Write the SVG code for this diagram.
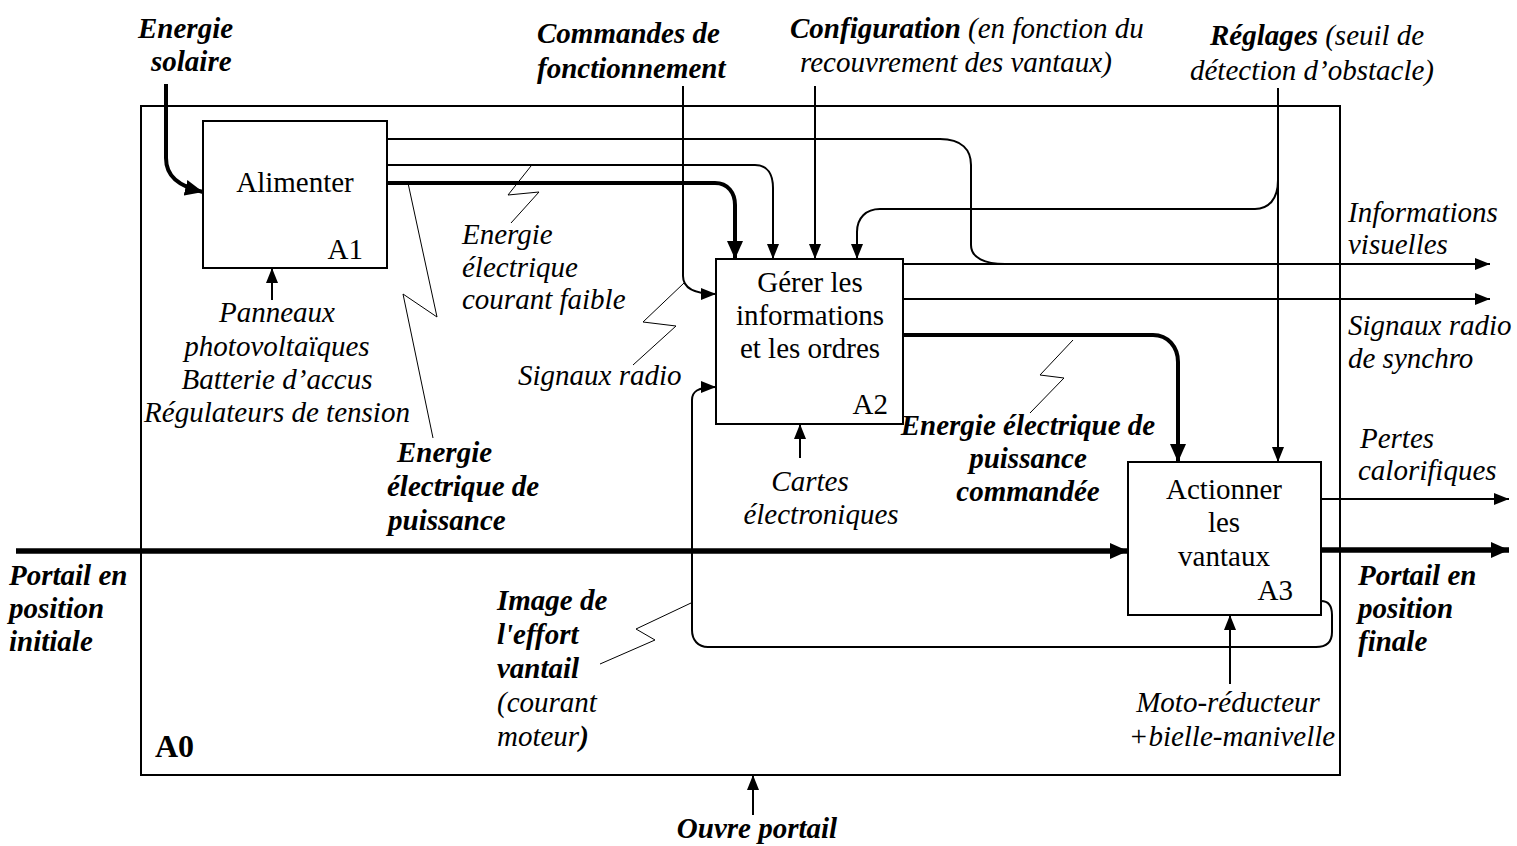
<svg xmlns="http://www.w3.org/2000/svg" width="1517" height="846" viewBox="0 0 1517 846" font-family="'Liberation Serif', Tinos, 'Times New Roman', Times, 'DejaVu Serif', serif">
<style>
text{font-family:"Liberation Serif",Tinos,"Times New Roman",Times,"DejaVu Serif",serif;font-size:29px;fill:#000}
.i{font-style:italic}
.bi{font-style:italic;font-weight:bold}
.b{font-weight:bold}
.box{fill:#fff;stroke:#000;stroke-width:2}
.ln{fill:none;stroke:#000;stroke-width:2}
.tk{fill:none;stroke:#000;stroke-width:4}
.xt{fill:none;stroke:#000;stroke-width:5.5}
.ld{fill:none;stroke:#000;stroke-width:1}
</style>
<defs>
<marker id="a" markerUnits="userSpaceOnUse" markerWidth="15" markerHeight="12" refX="15" refY="6" orient="auto"><path d="M0,0 L15,6 L0,12 z" fill="#000"/></marker>
<marker id="A" markerUnits="userSpaceOnUse" markerWidth="18" markerHeight="16" refX="18" refY="8" orient="auto"><path d="M0,0 L18,8 L0,16 z" fill="#000"/></marker>
</defs>
<rect width="1517" height="846" fill="#fff"/>
<g id="frame-A0">
<rect x="141" y="106" width="1199" height="669" fill="none" stroke="#000" stroke-width="2"/>
<text x="155" y="757" class="b" style="font-size:32px">A0</text>
</g>
<g id="connectors">
<path class="tk" d="M166,84 V158 C166,176 178,186 203,192" marker-end="url(#A)"/>
<path class="ln" d="M387,139 H940 C962,139 971,150 971,165 V245 C971,258 985,264 1005,264"/>
<path class="ln" d="M387,165 H755 C768,165 773,175 773,188 V259" marker-end="url(#a)"/>
<path class="tk" d="M387,183 H715 C728,183 735,193 735,205 V259" marker-end="url(#A)"/>
<path class="ln" d="M683,86 V276 C683,288 695,294 716,294" marker-end="url(#a)"/>
<path class="ln" d="M815,86 V259" marker-end="url(#a)"/>
<path class="ln" d="M1278,88 V462" marker-end="url(#a)"/>
<path class="ln" d="M1278,180 C1278,200 1268,209 1255,209 H880 C866,209 857,218 857,232 V259" marker-end="url(#a)"/>
<path class="ln" d="M903,264 H1490" marker-end="url(#a)"/>
<path class="ln" d="M903,299 H1490" marker-end="url(#a)"/>
<path class="tk" d="M903,335 H1153 C1168,335 1178,347 1178,362 V462" marker-end="url(#A)"/>
<path class="xt" d="M16,551 H1128" marker-end="url(#A)"/>
<path class="xt" d="M1321,550 H1509" marker-end="url(#A)"/>
<path class="ln" d="M1321,499 H1509" marker-end="url(#a)"/>
<path class="ln" d="M1321,601 C1328,601 1332,606 1332,615 V632 C1332,642 1326,647 1316,647 H708 C698,647 692,640 692,630 V400 C692,392 697,387 716,387" marker-end="url(#a)"/>
<path class="ln" d="M272,300 V268" marker-end="url(#a)"/>
<path class="ln" d="M800,458 V424" marker-end="url(#a)"/>
<path class="ln" d="M1230,684 V615" marker-end="url(#a)"/>
<path class="ln" d="M753,815 V775" marker-end="url(#a)"/>
<polyline class="ld" points="408,183 437,317 403,294 433,438"/>
<polyline class="ld" points="531,166 508,195 539,192 511,223"/>
<polyline class="ld" points="684,283 643,322 676,326 633,365"/>
<polyline class="ld" points="1073,340 1040,375 1064,378 1030,413"/>
<polyline class="ld" points="691,603 636,629 655,640 600,664"/>
</g>
<g id="A1">
<rect class="box" x="203" y="121" width="184" height="147"/>
<text x="295" y="192" text-anchor="middle">Alimenter</text>
<text x="363" y="259" text-anchor="end">A1</text>
</g>
<g id="A2">
<rect class="box" x="716" y="259" width="187" height="165"/>
<text x="810" y="292" text-anchor="middle">Gérer les</text>
<text x="810" y="325" text-anchor="middle">informations</text>
<text x="810" y="358" text-anchor="middle">et les ordres</text>
<text x="888" y="414" text-anchor="end">A2</text>
</g>
<g id="A3">
<rect class="box" x="1128" y="462" width="193" height="153"/>
<text x="1224" y="499" text-anchor="middle">Actionner</text>
<text x="1224" y="532" text-anchor="middle">les</text>
<text x="1224" y="566" text-anchor="middle">vantaux</text>
<text x="1293" y="600" text-anchor="end">A3</text>
</g>
<g id="labels">
<text x="138" y="38" class="bi">Energie</text>
<text x="151" y="71" class="bi">solaire</text>
<text x="537" y="43" class="bi">Commandes de</text>
<text x="537" y="78" class="bi">fonctionnement</text>
<text x="790" y="38" class="i"><tspan class="bi">Configuration</tspan> (en fonction du</text>
<text x="800" y="72" class="i">recouvrement des vantaux)</text>
<text x="1210" y="45" class="i"><tspan class="bi">Réglages</tspan> (seuil de</text>
<text x="1190" y="80" class="i">détection d’obstacle)</text>
<text x="1348" y="222" class="i">Informations</text>
<text x="1348" y="254" class="i">visuelles</text>
<text x="1348" y="335" class="i">Signaux radio</text>
<text x="1348" y="368" class="i">de synchro</text>
<text x="1360" y="448" class="i">Pertes</text>
<text x="1358" y="480" class="i">calorifiques</text>
<text x="1358" y="585" class="bi">Portail en</text>
<text x="1358" y="618" class="bi">position</text>
<text x="1358" y="651" class="bi">finale</text>
<text x="9" y="585" class="bi">Portail en</text>
<text x="9" y="618" class="bi">position</text>
<text x="9" y="651" class="bi">initiale</text>
<text x="277" y="322" class="i" text-anchor="middle">Panneaux</text>
<text x="277" y="356" class="i" text-anchor="middle">photovoltaïques</text>
<text x="277" y="389" class="i" text-anchor="middle">Batterie d’accus</text>
<text x="277" y="422" class="i" text-anchor="middle">Régulateurs de tension</text>
<text x="462" y="244" class="i">Energie</text>
<text x="462" y="277" class="i">électrique</text>
<text x="462" y="309" class="i">courant faible</text>
<text x="518" y="385" class="i">Signaux radio</text>
<text x="397" y="462" class="bi">Energie</text>
<text x="387" y="496" class="bi">électrique de</text>
<text x="388" y="530" class="bi">puissance</text>
<text x="1028" y="435" class="bi" text-anchor="middle">Energie électrique de</text>
<text x="1028" y="468" class="bi" text-anchor="middle">puissance</text>
<text x="1028" y="501" class="bi" text-anchor="middle">commandée</text>
<text x="810" y="491" class="i" text-anchor="middle">Cartes</text>
<text x="821" y="524" class="i" text-anchor="middle">électroniques</text>
<text x="497" y="610" class="bi">Image de</text>
<text x="497" y="644" class="bi">l'effort</text>
<text x="497" y="678" class="bi">vantail</text>
<text x="497" y="712" class="i">(courant</text>
<text x="497" y="746" class="i">moteur<tspan class="bi">)</tspan></text>
<text x="1228" y="712" class="i" text-anchor="middle">Moto-réducteur</text>
<text x="1232" y="746" class="i" text-anchor="middle">+bielle-manivelle</text>
<text x="757" y="838" class="bi" text-anchor="middle">Ouvre portail</text>
</g>
</svg>
